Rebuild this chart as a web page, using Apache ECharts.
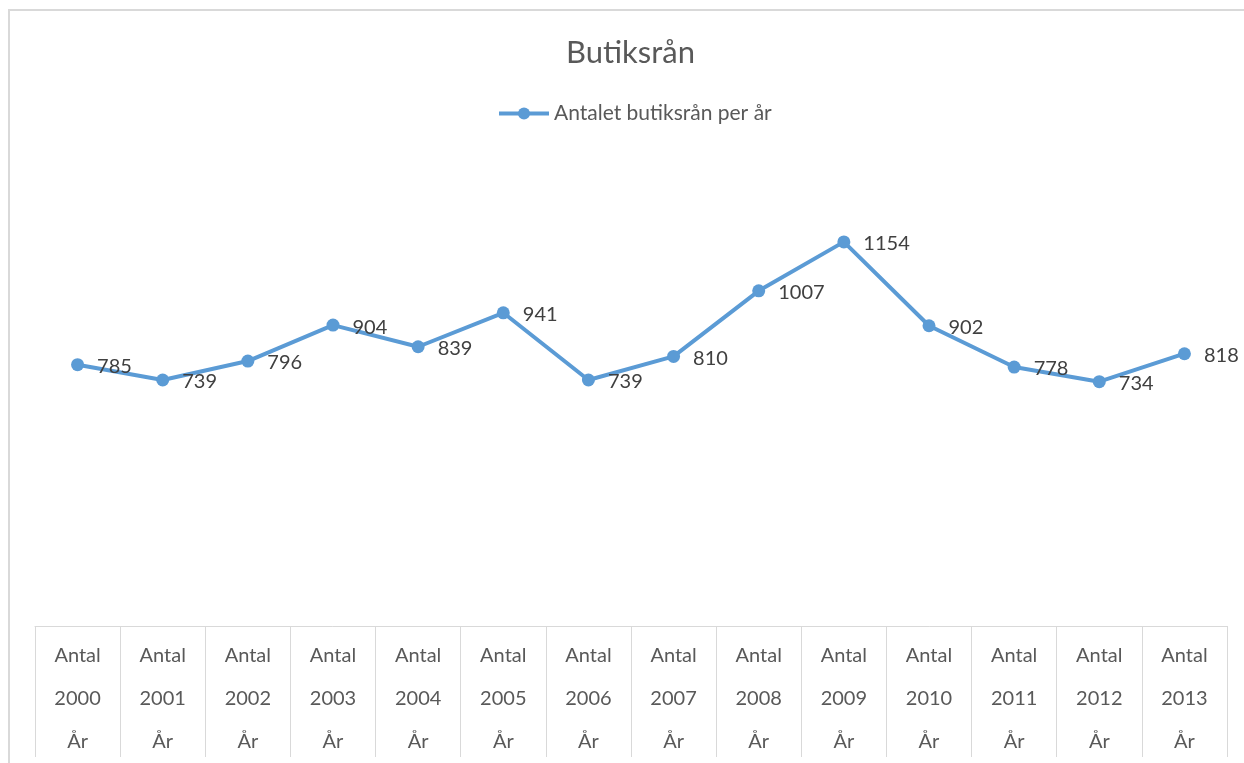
<!DOCTYPE html>
<html>
<head>
<meta charset="utf-8">
<title>Butiksrån</title>
<script src="https://cdn.jsdelivr.net/npm/echarts@6/dist/echarts.min.js"></script>
<style>
  html, body { margin: 0; padding: 0; background: #fff; }
  #chart { position: absolute; left: 0; top: 0; width: 1244px; height: 763px; }
  /* ram runt diagrammet */
  #frame {
    position: absolute; left: 8px; top: 9px; right: 0; bottom: 0;
    border-top: 2px solid #d9d9d9; border-left: 2px solid #d9d9d9;
    pointer-events: none;
  }
</style>
</head>
<body>
<div id="chart"></div>
<div id="frame"></div>
<script>
// kategorier (år)
const years = ["2000", "2001", "2002", "2003", "2004", "2005", "2006",
  "2007", "2008", "2009", "2010", "2011", "2012", "2013"];
// antal butiksrån per år
const robberies = [785, 739, 796, 904, 839, 941, 739, 810, 1007, 1154, 902, 778, 734, 818];

const seriesName = "Antalet butiksrån per år";
const textColor = "#595959";
const fontFamily = "Lato, 'Open Sans', sans-serif";

const chart = echarts.init(document.getElementById("chart"));

chart.setOption({
  animation: false,
  color: ["#5b9bd5"],
  title: {
    text: "Butiksrån",
    left: 561,
    top: 32,
    textStyle: { color: textColor, fontSize: 31, fontWeight: "normal", fontFamily: fontFamily },
  },
  legend: {
    top: 98,
    left: 492,
    itemWidth: 50,
    itemHeight: 15,
    itemGap: 6,
    lineStyle: { width: 4 },
    textStyle: { color: textColor, fontSize: 21, fontFamily: fontFamily },
    data: [seriesName],
  },
  grid: {
    left: 35,
    right: 17,
    top: 160,
    bottom: 137,
  },
  xAxis: {
    type: "category",
    data: years,
    boundaryGap: true,
    axisLine: { show: true, lineStyle: { color: "#d9d9d9", width: 1 } },
    axisTick: { show: true, length: 131, lineStyle: { color: "#d9d9d9", width: 1 } },
    axisLabel: {
      margin: 8,
      color: textColor,
      fontSize: 20,
      lineHeight: 43,
      fontFamily: fontFamily,
      interval: 0,
      formatter: (v) => "Antal\n" + v + "\nÅr",
    },
  },
  yAxis: {
    type: "value",
    min: 0,
    max: 1400,
    show: false,
    splitLine: { show: false },
  },
  series: [
    {
      name: seriesName,
      type: "line",
      data: robberies,
      symbol: "circle",
      symbolSize: 13,
      lineStyle: { width: 4 },
      label: {
        show: true,
        position: "right",
        distance: 13,
        offset: [0, 2],
        color: "#404040",
        fontSize: 20,
        fontFamily: fontFamily,
      },
    },
  ],
});
</script>
</body>
</html>
